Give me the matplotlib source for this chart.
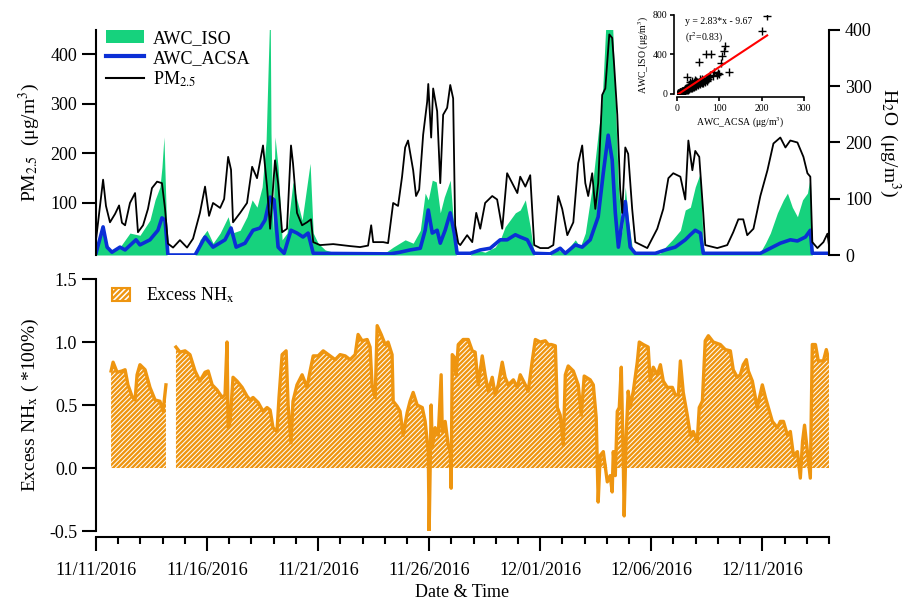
import matplotlib
matplotlib.use('Agg')
import matplotlib.pyplot as plt
import matplotlib.dates as mdates
import numpy as np
from datetime import datetime, timedelta
from matplotlib.patches import Patch
from matplotlib.lines import Line2D

plt.rcParams['font.family'] = ['Liberation Serif', 'DejaVu Serif']
plt.rcParams['mathtext.fontset'] = 'stix'
plt.rcParams['hatch.linewidth'] = 1.7

# ---------------- data (days since 2016-11-11 00:00) ----------------
pm_days = [0.00, 0.32, 0.45, 0.63, 0.86, 1.04, 1.17, 1.31, 1.53, 1.76, 1.89, 2.12, 2.34, 2.52, 2.75,
           2.97, 3.11, 3.24, 3.47, 3.78, 4.10, 4.37, 4.68, 4.91, 5.09, 5.27, 5.59, 5.77, 5.95, 6.08,
           6.17, 6.49, 6.80, 7.03, 7.25, 7.52, 7.70, 7.84, 8.06, 8.20, 8.38, 8.60, 8.78, 8.87, 9.05,
           9.28, 9.50, 9.68, 9.78, 10.09, 10.68, 11.44, 11.89, 12.25, 12.39, 12.48, 12.93, 13.15, 13.38,
           13.60, 13.78, 13.92, 14.05, 14.28, 14.41, 14.55, 14.73, 14.91, 14.96, 15.09, 15.18, 15.36,
           15.50, 15.63, 15.81, 15.95, 16.08, 16.17, 16.31, 16.40, 16.71, 16.94, 17.12, 17.30, 17.52,
           17.84, 18.06, 18.29, 18.51, 18.74, 18.97, 19.10, 19.33, 19.55, 19.73, 20.00, 20.36, 20.59,
           20.81, 20.99, 21.22, 21.49, 21.71, 21.89, 22.03, 22.16, 22.34, 22.48, 22.61, 22.79, 22.93,
           23.11, 23.24, 23.33, 23.47, 23.60, 23.69, 23.83, 23.96, 24.14, 24.28, 24.82, 25.27, 25.54,
           25.77, 25.99, 26.31, 26.53, 26.67, 26.85, 26.98, 27.16, 27.34, 27.43, 27.97, 28.42, 28.69,
           28.92, 29.14, 29.32, 29.60, 29.91, 30.23, 30.50, 30.81, 31.04, 31.26, 31.58, 31.85, 32.03,
           32.16, 32.25, 32.48, 32.75, 32.93, 33.00]
pm25 = [25, 147, 94, 61, 78, 95, 60, 55, 100, 120, 41, 55, 88, 130, 143,
        140, 88, 18, 10, 25, 10, 28, 80, 133, 74, 100, 90, 108, 193, 167,
        61, 80, 100, 173, 150, 216, 133, 48, 186, 140, 41, 48, 216, 180, 80,
        55, 61, 67, 21, 15, 17, 13, 11, 14, 55, 21, 21, 19, 100,
        94, 153, 212, 226, 166, 114, 127, 238, 304, 340, 232, 331, 285,
        140, 278, 292, 338, 311, 55, 19, 15, 35, 21, 80, 48, 100,
        114, 107, 48, 160, 140, 120, 153, 133, 156, 15, 9, 9, 15,
        114, 88, 35, 61, 180, 216, 140, 114, 160, 88, 140, 318, 331,
        440, 433, 377, 278, 127, 80, 212, 199, 88, 21, 9, 48, 88,
        150, 160, 153, 107, 226, 166, 205, 193, 80, 15, 9, 15, 41,
        67, 67, 35, 48, 114, 166, 220, 232, 212, 226, 222, 193, 160,
        153, 21, 9, 21, 38, 15]

iso_days = [0.00, 0.32, 0.63, 1.08, 1.53, 1.98, 2.43, 2.66, 2.88, 2.97, 3.06, 3.15, 3.20, 4.46, 4.68,
            5.00, 5.27, 5.59, 5.95, 6.13, 6.49, 6.80, 7.03, 7.25, 7.48, 7.66, 7.75, 7.84, 7.88, 7.97,
            8.06, 8.20, 8.38, 8.60, 8.87, 9.05, 9.28, 9.64, 9.78, 10.00, 10.32, 10.77, 13.02, 13.38,
            13.92, 14.28, 14.60, 14.82, 14.96, 15.14, 15.32, 15.50, 15.68, 15.95, 16.08, 16.22, 16.85,
            17.07, 17.52, 17.97, 18.20, 18.42, 18.88, 19.10, 19.33, 19.55, 19.73, 20.45, 20.77, 21.13,
            21.58, 21.80, 22.03, 22.34, 22.61, 22.79, 22.98, 23.24, 23.38, 23.52, 23.69, 23.83, 23.96,
            24.14, 24.28, 25.41, 25.63, 25.95, 26.31, 26.53, 26.76, 26.98, 27.21, 27.34, 27.43, 29.91,
            30.14, 30.36, 30.68, 30.95, 31.13, 31.35, 31.58, 31.81, 32.03, 32.16, 32.25, 33.00]
awc_iso = [5, 44, 5, 14, 39, 35, 62, 98, 121, 156, 210, 90, 0, 0, 27,
           44, 21, 39, 68, 39, 44, 68, 98, 85, 121, 204, 330, 450, 217, 39,
           210, 156, 27, 39, 130, 98, 62, 163, 39, 21, 9, 4, 4, 14,
           27, 21, 44, 110, 98, 133, 130, 75, 103, 133, 65, 0, 0,
           9, 5, 14, 27, 50, 75, 80, 98, 50, 0, 0, 9, 5,
           27, 14, 39, 121, 217, 276, 430, 430, 276, 121, 39, 121, 65,
           14, 3, 3, 14, 27, 44, 80, 85, 121, 146, 14, 3, 5,
           21, 39, 75, 98, 110, 85, 68, 98, 110, 139, 0, 0]

acsa_days = [0.00, 0.32, 0.50, 0.72, 1.08, 1.31, 1.80, 1.98, 2.43, 2.79, 2.97, 3.11, 3.24, 4.46, 4.91,
             5.27, 5.81, 6.08, 6.31, 6.71, 7.07, 7.39, 7.61, 7.84, 8.02, 8.20, 8.47, 8.78, 9.05, 9.32,
             9.55, 9.78, 13.24, 13.69, 14.14, 14.60, 14.82, 14.96, 15.14, 15.36, 15.50, 15.72, 15.95,
             16.13, 16.26, 16.85, 17.30, 17.75, 18.20, 18.51, 18.88, 19.10, 19.42, 19.73, 20.45, 20.90,
             21.13, 21.58, 21.89, 22.25, 22.61, 22.84, 23.06, 23.24, 23.38, 23.52, 23.65, 23.83, 24.05,
             24.28, 25.18, 25.63, 26.08, 26.53, 26.76, 26.98, 27.21, 27.34, 29.91, 30.36, 30.81, 31.26,
             31.58, 31.94, 32.16, 32.25, 33.00]
awc_acsa = [3, 50, 14, 5, 14, 9, 27, 18, 27, 44, 66, 62, 0, 0, 32,
            14, 27, 48, 14, 21, 44, 48, 62, 103, 98, 14, 3, 44, 39, 32,
            39, 3, 2, 5, 9, 12, 44, 80, 39, 44, 21, 44, 75,
            39, 3, 3, 9, 12, 27, 27, 36, 32, 27, 3, 2, 12,
            3, 18, 14, 27, 68, 146, 213, 169, 75, 14, 50, 95, 14,
            3, 3, 9, 14, 27, 36, 44, 39, 3, 3, 12, 21, 27,
            25, 32, 44, 3, 3]

nhx_days = [0.68, 0.77, 0.95, 1.17, 1.31, 1.44, 1.62, 1.76, 1.85, 1.98, 2.21, 2.43, 2.66, 2.88, 3.02,
            3.15, 3.30, 3.60, 3.78, 4.01, 4.23, 4.46, 4.68, 4.91, 5.05, 5.23, 5.45, 5.68, 5.81, 5.90,
            5.95, 6.04, 6.17, 6.35, 6.58, 6.80, 6.94, 7.07, 7.30, 7.52, 7.70, 7.84, 7.97, 8.15, 8.24,
            8.38, 8.56, 8.65, 8.78, 8.87, 9.05, 9.28, 9.50, 9.64, 9.78, 10.00, 10.23, 10.54, 10.77,
            10.99, 11.22, 11.44, 11.67, 11.80, 11.98, 12.21, 12.34, 12.43, 12.57, 12.66, 12.84, 13.02,
            13.15, 13.33, 13.38, 13.56, 13.69, 13.83, 14.01, 14.14, 14.28, 14.46, 14.69, 14.82, 14.96,
            15.00, 15.09, 15.14, 15.27, 15.41, 15.54, 15.59, 15.72, 15.86, 15.95, 15.99, 16.04, 16.13,
            16.22, 16.31, 16.53, 16.76, 16.94, 17.07, 17.21, 17.39, 17.52, 17.66, 17.84, 17.97, 18.11,
            18.29, 18.42, 18.56, 18.79, 18.97, 19.10, 19.33, 19.46, 19.64, 19.78, 20.00, 20.23, 20.36,
            20.50, 20.68, 20.77, 20.90, 21.04, 21.13, 21.26, 21.49, 21.71, 21.85, 21.98, 22.25, 22.39,
            22.52, 22.61, 22.70, 22.84, 23.02, 23.15, 23.24, 23.29, 23.38, 23.47, 23.56, 23.65, 23.74,
            23.78, 23.87, 23.96, 24.05, 24.19, 24.37, 24.46, 24.64, 24.86, 24.95, 25.09, 25.27, 25.41,
            25.54, 25.72, 25.95, 26.08, 26.22, 26.31, 26.44, 26.62, 26.76, 26.89, 27.07, 27.16, 27.30,
            27.43, 27.57, 27.79, 28.11, 28.33, 28.56, 28.69, 28.87, 29.01, 29.14, 29.28, 29.37, 29.55,
            29.77, 30.00, 30.14, 30.27, 30.45, 30.68, 30.81, 30.95, 31.13, 31.26, 31.40, 31.58, 31.71,
            31.81, 31.90, 32.03, 32.16, 32.25, 32.39, 32.52, 32.75, 32.88, 33.00]
excess_nhx = [0.77, 0.84, 0.76, 0.77, 0.78, 0.66, 0.57, 0.54, 0.74, 0.82, 0.78, 0.64, 0.54, 0.53, 0.45,
              0.66, np.nan, 0.96, 0.92, 0.93, 0.90, 0.77, 0.69, 0.76, 0.77, 0.66, 0.62, 0.56, 0.58, 1.00,
              0.32, 0.37, 0.72, 0.69, 0.64, 0.57, 0.54, 0.56, 0.52, 0.45, 0.48, 0.46, 0.32, 0.29, 0.56,
              0.90, 0.93, 0.50, 0.20, 0.53, 0.66, 0.74, 0.64, 0.77, 0.89, 0.89, 0.93, 0.89, 0.86,
              0.90, 0.89, 0.86, 0.90, 1.06, 1.01, 1.02, 0.96, 0.66, 0.56, 1.13, 1.06, 0.98,
              1.00, 0.90, 0.53, 0.49, 0.45, 0.26, 0.44, 0.53, 0.60, 0.50, 0.48, 0.37, 0.13,
              -0.50, 0.50, 0.16, 0.32, 0.26, 0.74, 0.29, 0.37, 0.18, 0.13, -0.16, 0.90, 0.88,
              0.74, 0.98, 1.02, 1.02, 0.93, 0.92, 0.66, 0.89, 0.74, 0.61, 0.72, 0.58, 0.66,
              0.84, 0.72, 0.66, 0.70, 0.64, 0.74, 0.66, 0.61, 0.85, 1.02, 1.00, 1.01, 0.98,
              0.98, 0.97, 0.48, 0.42, 0.18, 0.74, 0.81, 0.77, 0.66, 0.42, 0.73, 0.70, 0.66,
              0.40, -0.27, 0.10, 0.13, -0.11, -0.06, -0.19, 0.13, -0.06, 0.45, 0.48, 0.80, 0.05,
              -0.38, 0.26, 0.61, 0.48, 0.61, 0.84, 1.00, 0.98, 0.96, 0.69, 0.80, 0.74, 0.82,
              0.69, 0.64, 0.64, 0.58, 0.58, 0.85, 0.60, 0.42, 0.26, 0.29, 0.21, 0.48, 0.53,
              1.01, 1.05, 1.00, 0.98, 0.94, 0.93, 0.78, 0.72, 0.74, 0.82, 0.86, 0.77, 0.69,
              0.48, 0.66, 0.56, 0.48, 0.37, 0.32, 0.37, 0.37, 0.26, 0.29, 0.10, 0.13, -0.08,
              0.21, 0.34, 0.13, -0.08, 0.98, 0.98, 0.85, 0.85, 0.94, 0.85]

# inset scatter: AWC_ACSA vs AWC_ISO
inset_acsa = [1, 2, 3, 4, 5, 6, 7, 8, 9, 10, 11, 12, 13, 14, 15, 16, 17, 18, 19, 20, 21, 22, 23, 24,
              25, 26, 27, 28, 29, 30, 31, 32, 33, 34, 35, 36, 37, 38, 39, 40, 42, 44, 46, 48, 50, 52,
              54, 56, 58, 60, 62, 64, 66, 68, 70, 24, 30, 36, 42, 45, 55, 72, 75, 78, 85, 88, 95, 100,
              96, 104, 106, 110, 114, 122, 52, 68, 80, 200, 212,
              6, 9, 12, 15, 18, 21, 24, 27, 30, 33, 36, 39, 42, 45, 48, 51, 54, 57, 60, 63,
              8, 14, 20, 26, 32, 38, 44, 50, 56, 62, 28, 34, 40, 46, 58, 64, 70, 74]
inset_iso = [3, 8, 5, 12, 9, 15, 11, 20, 14, 25, 18, 30, 22, 35, 26, 40, 30, 46, 34, 50, 38, 56, 42, 60,
             45, 66, 50, 72, 54, 78, 57, 84, 60, 88, 64, 95, 68, 100, 72, 105, 80, 112, 85, 120, 92, 125,
             100, 132, 108, 140, 115, 145, 125, 150, 135, 170, 120, 130, 140, 125, 150, 160, 175, 195,
             185, 220, 195, 205, 208, 315, 380, 437, 490, 218, 320, 404, 404, 640, 790,
             12, 20, 26, 32, 40, 46, 52, 58, 66, 72, 78, 86, 92, 98, 104, 110, 118, 124, 130, 138,
             18, 30, 44, 56, 68, 82, 94, 106, 118, 130, 95, 105, 122, 130, 150, 128, 145, 150]
fit_slope = 2.83
fit_intercept = -9.67

# ---------------- figure ----------------
START = datetime(2016, 11, 11)
def to_dates(days):
    return [START + timedelta(days=d) for d in days]

GREEN = '#16D27D'
BLUE = '#0B2FD6'
ORANGE = '#EE9510'

fig = plt.figure(figsize=(9.22, 6.02), dpi=100)

x0, x1 = START, START + timedelta(days=33)

# ---- top panel ----
ax = fig.add_axes([0.1041, 0.5764, 0.795, 0.3738])
ax2 = ax.twinx()
ax2.fill_between(to_dates(iso_days), 0, awc_iso, color=GREEN, lw=0)
ax2.plot(to_dates(acsa_days), awc_acsa, color=BLUE, lw=2.6, solid_joinstyle='round')
ax.plot(to_dates(pm_days), pm25, color='black', lw=1.3)
ax.set_zorder(ax2.get_zorder() + 1)
ax.patch.set_visible(False)

ax.set_xlim(x0, x1)
ax.set_ylim(-5, 449)
ax2.set_ylim(0, 400)
ax.set_yticks([100, 200, 300, 400])
ax2.set_yticks([0, 100, 200, 300, 400])
for a in (ax, ax2):
    a.spines['top'].set_visible(False)
    a.spines['bottom'].set_visible(False)
    a.set_xticks([])
ax.spines['right'].set_visible(False)
ax2.spines['left'].set_visible(False)
ax.spines['left'].set_linewidth(1.5)
ax2.spines['right'].set_linewidth(1.5)
ax.tick_params(axis='y', direction='out', length=10, width=1.5, labelsize=13)
ax2.tick_params(axis='y', direction='out', length=8, width=1.5, labelsize=13)
ax.set_ylabel('PM$_{2.5}$  (μg/m$^{3}$)', fontsize=14, labelpad=6)
ax2.set_ylabel('H$_2$O  (μg/m$^{3}$)', fontsize=14, rotation=270, labelpad=22)

handles = [Patch(facecolor=GREEN, edgecolor='none'),
           Line2D([], [], color=BLUE, lw=3),
           Line2D([], [], color='black', lw=1.5)]
labels = ['AWC_ISO', 'AWC_ACSA', 'PM$_{2.5}$']
ax.legend(handles, labels, loc='upper left', bbox_to_anchor=(106 / 922, 1 - 30 / 602),
          bbox_transform=fig.transFigure, frameon=False, fontsize=13, handlelength=2.1,
          handletextpad=0.5, labelspacing=0.15, borderpad=0, borderaxespad=0)

# ---- bottom panel ----
axb = fig.add_axes([0.1041, 0.1179, 0.795, 0.4186])
tn = to_dates(nhx_days)
nhx_arr = np.array(excess_nhx, dtype=float)
axb.fill_between(tn, 0, np.where(nhx_arr > 0, nhx_arr, 0), where=~np.isnan(nhx_arr),
                 facecolor='white', edgecolor=ORANGE, hatch='///////', linewidth=0)
axb.plot(tn, nhx_arr, color=ORANGE, lw=2.4)
axb.set_xlim(x0, x1)
axb.set_ylim(-0.5, 1.5)
axb.set_yticks([-0.5, 0.0, 0.5, 1.0, 1.5])
axb.set_yticklabels(['-0.5', '0.0', '0.5', '1.0', '1.5'])
axb.spines['top'].set_visible(False)
axb.spines['right'].set_visible(False)
axb.spines['left'].set_linewidth(1.5)
axb.spines['bottom'].set_linewidth(1.5)
axb.spines['bottom'].set_position(('outward', 4))
axb.xaxis.set_major_locator(mdates.DayLocator(bymonthday=[1, 6, 11, 16, 21, 26]))
axb.xaxis.set_major_formatter(mdates.DateFormatter('%m/%d/%Y'))
axb.xaxis.set_minor_locator(mdates.DayLocator())
axb.tick_params(axis='y', direction='out', length=10, width=1.5, labelsize=13)
axb.tick_params(axis='x', which='major', direction='out', length=10, width=1.5, labelsize=13, pad=8)
axb.tick_params(axis='x', which='minor', direction='out', length=5, width=1.5)
axb.set_ylabel('Excess NH$_\\mathrm{x}$ ( *100%)', fontsize=14, labelpad=6)
axb.set_xlabel('Date & Time', fontsize=13, labelpad=4)
axb.legend([Patch(facecolor='white', edgecolor=ORANGE, hatch='//////', linewidth=1.5)],
           ['Excess NH$_\\mathrm{x}$'], loc='upper left', bbox_to_anchor=(112 / 922, 1 - 286 / 602),
           bbox_transform=fig.transFigure, frameon=False, fontsize=13, handlelength=1.0,
           handletextpad=0.9, borderpad=0, borderaxespad=0)

# ---- inset scatter ----
axi = fig.add_axes([0.7343, 0.8439, 0.1377, 0.1312])
axi.scatter(inset_acsa, inset_iso, marker='+', s=30, color='black', linewidths=1.0)
fx = np.array([0, 213])
axi.plot(fx, fit_slope * fx + fit_intercept, color='red', lw=1.5)
axi.set_xlim(0, 300)
axi.set_ylim(0, 800)
axi.set_xticks([0, 100, 200, 300])
axi.set_yticks([0, 400, 800])
axi.spines['top'].set_visible(False)
axi.spines['right'].set_visible(False)
for s in ('left', 'bottom'):
    axi.spines[s].set_linewidth(1.2)
    axi.spines[s].set_position(('outward', 2))
axi.tick_params(direction='out', length=3, width=1.2, labelsize=7, pad=2)
axi.set_xlabel('AWC_ACSA (μg/m$^3$)', fontsize=7, labelpad=2)
axi.set_ylabel('AWC_ISO (μg/m$^3$)', fontsize=7, labelpad=1)
axi.text(0.06, 0.97, 'y = 2.83*x - 9.67', transform=axi.transAxes, fontsize=7, va='top')
axi.text(0.06, 0.80, '(r$^2$=0.83)', transform=axi.transAxes, fontsize=7, va='top')
axi.patch.set_visible(False)

fig.savefig('out.png', dpi=100)
